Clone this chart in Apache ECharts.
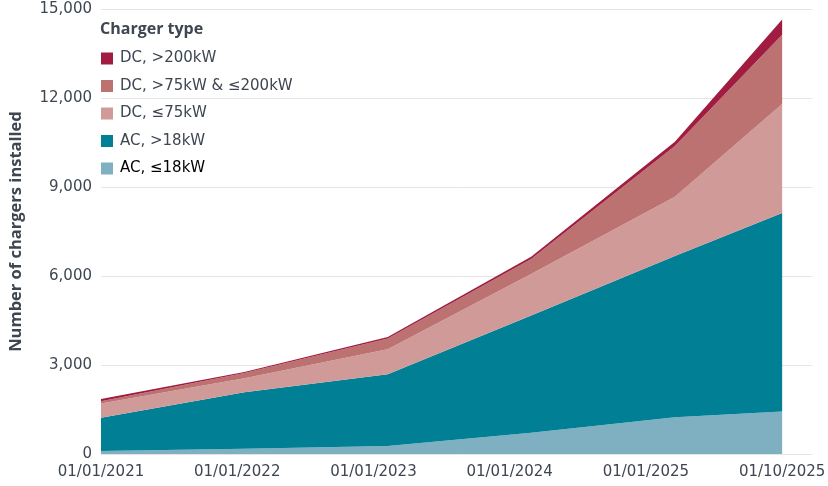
<!DOCTYPE html>
<html>
<head>
<meta charset="utf-8">
<script src="https://cdn.jsdelivr.net/npm/echarts@6/dist/echarts.min.js"></script>
<style>
html,body{margin:0;padding:0;background:#fff;}
#chart{width:828px;height:486px;}
</style>
</head>
<body>
<div id="chart"></div>
<script>
// Dates of the observations
const dates = ['2021-01-01', '2022-01-01', '2023-01-01', '2024-01-01', '2025-01-01', '2025-10-01'];
// Evenly placed tick labels shown below the chart
const tickLabels = ['01/01/2021', '01/01/2022', '01/01/2023', '01/01/2024', '01/01/2025', '01/10/2025'];
const yTicks = [0, 3000, 6000, 9000, 12000, 15000];

// Series values (number of chargers installed)
const acUpTo18 = [100, 180, 270, 720, 1240, 1430];
const acOver18 = [1120, 1900, 2420, 3950, 5430, 6690];
const dcUpTo75 = [480, 470, 840, 1400, 2000, 3680];
const dc75to200 = [80, 180, 360, 500, 1710, 2330];
const dcOver200 = [70, 35, 50, 80, 145, 520];

const names = ['AC, ≤18kW', 'AC, >18kW', 'DC, ≤75kW', 'DC, >75kW & ≤200kW', 'DC, >200kW'];
const values = [acUpTo18, acOver18, dcUpTo75, dc75to200, dcOver200];
const colors = ['#7fb0c1', '#007f95', '#d09a98', '#bd7272', '#a01c40'];

const FONT = '"DejaVu Sans", "Open Sans", sans-serif';
const BOLD_FONT = '"Open Sans", "Noto Sans", sans-serif';
const TEXT = '#3d4651';

const tMin = new Date(dates[0]).getTime();
const tLast = new Date(dates[dates.length - 1]).getTime();
const tMax = new Date('2025-12-15').getTime();
const labelMax = (tickLabels.length - 1) * (tMax - tMin) / (tLast - tMin);

const series = names.map((n, i) => ({
  name: n,
  type: 'line',
  stack: 'total',
  xAxisIndex: 0,
  symbol: 'none',
  showSymbol: false,
  lineStyle: { width: 0 },
  areaStyle: { color: colors[i], opacity: 1 },
  itemStyle: { color: colors[i] },
  data: dates.map((d, j) => [d, values[i][j]])
}));

const chart = echarts.init(document.getElementById('chart'), null, { renderer: 'canvas' });
chart.setOption({
  animation: false,
  backgroundColor: '#fff',
  title: {
    text: 'Charger type',
    left: 95, top: 16,
    textStyle: { fontFamily: BOLD_FONT, fontSize: 16, fontWeight: 'bold', color: TEXT }
  },
  legend: {
    orient: 'vertical',
    left: 101, top: 50.5,
    padding: 0,
    itemWidth: 12, itemHeight: 12,
    itemGap: 11.5,
    icon: 'rect',
    textStyle: { fontFamily: FONT, fontSize: 15, color: TEXT, lineHeight: 16, padding: [0, 0, 0, 2] },
    data: [
      { name: 'DC, >200kW' },
      { name: 'DC, >75kW & ≤200kW' },
      { name: 'DC, ≤75kW' },
      { name: 'AC, >18kW' },
      { name: 'AC, ≤18kW', textStyle: { color: '#000' } }
    ]
  },
  grid: { left: 92, right: 15, top: 9, bottom: 32, containLabel: false },
  xAxis: [
    {
      type: 'time',
      min: tMin, max: tMax,
      show: false
    },
    {
      type: 'value',
      min: 0, max: labelMax, interval: 1,
      position: 'bottom',
      axisLine: { show: false },
      axisTick: { show: false },
      splitLine: { show: false },
      axisLabel: {
        margin: 11,
        fontFamily: FONT, fontSize: 15, color: TEXT,
        formatter: v => (Math.abs(v - Math.round(v)) < 1e-6 && tickLabels[Math.round(v)]) ? tickLabels[Math.round(v)] : ''
      }
    }
  ],
  yAxis: {
    type: 'value',
    min: yTicks[0], max: yTicks[yTicks.length - 1], interval: yTicks[1] - yTicks[0],
    name: 'Number of chargers installed',
    nameLocation: 'middle',
    nameGap: 76,
    nameTextStyle: { fontFamily: BOLD_FONT, fontSize: 16.5, fontWeight: 'bold', color: TEXT },
    axisLine: { show: false },
    axisTick: { show: false },
    splitLine: { lineStyle: { color: '#e4e4e4', width: 1 } },
    axisLabel: {
      margin: 9,
      fontFamily: FONT, fontSize: 15, color: TEXT,
      formatter: v => v.toLocaleString('en-US')
    }
  },
  series: series
});
</script>
</body>
</html>
